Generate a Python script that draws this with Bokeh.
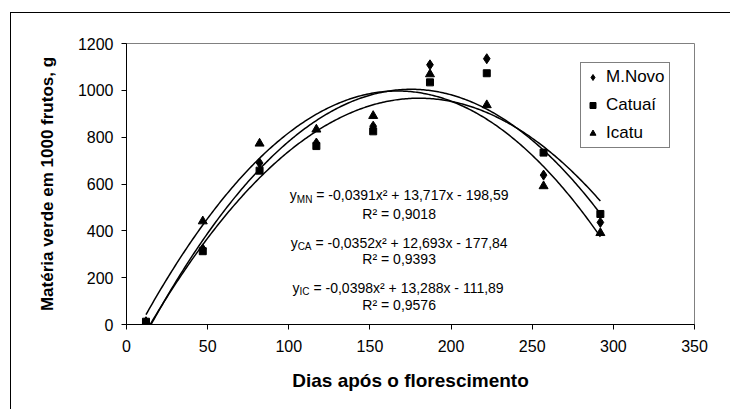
from bokeh.plotting import figure
from bokeh.models import Range1d, FixedTicker, Legend, LegendItem, Label
from bokeh.embed import file_html
from bokeh.resources import INLINE
import numpy as np

# ---- data ----
days = [12, 47, 82, 117, 152, 187, 222, 257, 292]
mnovo = [12, 323, 690, 775, 847, 1109, 1135, 638, 436]
catuai = [12, 313, 657, 762, 825, 1034, 1073, 734, 472]
icatu = [8, 441, 773, 833, 891, 1069, 937, 591, 391]

series_names = ["M.Novo", "Catuaí", "Icatu"]

# trend-line coefficients printed on the chart (a, b, c for a*x^2 + b*x + c)
coef_mn = [-0.0391, 13.717, -198.59]
coef_ca = [-0.0352, 12.693, -177.84]
coef_ic = [-0.0398, 13.288, -111.89]

eq_sub = ["MN", "CA", "IC"]
eq_rest = ["= -0,0391x² + 13,717x - 198,59",
           "= -0,0352x² + 12,693x - 177,84",
           "= -0,0398x² + 13,288x - 111,89"]
r2_text = ["R² = 0,9018", "R² = 0,9393", "R² = 0,9576"]

x_ticks = [0, 50, 100, 150, 200, 250, 300, 350]
y_ticks = [0, 200, 400, 600, 800, 1000, 1200]

FONT = "Liberation Sans"

p = figure(width=720, height=397, output_backend="svg", toolbar_location=None,
           x_range=Range1d(0, 350), y_range=Range1d(0, 1200))
p.styles = {"margin-left": "10px", "margin-top": "12px",
            "border-left": "1px solid #000", "border-top": "1px solid #000"}
p.min_border_left = 115
p.min_border_right = 37
p.min_border_top = 30
p.min_border_bottom = 86
p.background_fill_color = "white"
p.border_fill_color = "white"
p.outline_line_color = "#808080"
p.outline_line_width = 1
p.xgrid.visible = False
p.ygrid.visible = False

for ax in (p.xaxis[0], p.yaxis[0]):
    ax.axis_line_color = "black"
    ax.axis_line_width = 1
    ax.major_tick_line_color = "black"
    ax.major_tick_out = 5
    ax.major_tick_in = 0
    ax.minor_tick_line_color = None
    ax.major_label_text_font = FONT
    ax.major_label_text_font_size = "16px"
    ax.major_label_text_color = "black"
    ax.axis_label_text_font = FONT
    ax.axis_label_text_font_style = "bold"
    ax.axis_label_text_color = "black"

p.xaxis[0].ticker = FixedTicker(ticks=x_ticks)
p.yaxis[0].ticker = FixedTicker(ticks=y_ticks)
p.xaxis[0].axis_label = "Dias após o florescimento"
p.yaxis[0].axis_label = "Matéria verde em 1000 frutos, g"
p.xaxis[0].axis_label_text_font_size = "19px"
p.yaxis[0].axis_label_text_font_size = "17px"
p.xaxis[0].major_label_standoff = 10
p.yaxis[0].major_label_standoff = 8
p.xaxis[0].axis_label_standoff = 15
p.yaxis[0].axis_label_standoff = 18

# trend lines (polynomials from the printed equations), over the data's day range
xs = np.linspace(days[0], days[-1], 281)
for coef in (coef_mn, coef_ca, coef_ic):
    p.line(xs, np.polyval(coef, xs), line_color="black", line_width=1.5)

r1 = p.scatter(days, mnovo, marker="diamond", size=10, color="black")
r2 = p.scatter(days, catuai, marker="square", size=7, color="black")
r3 = p.scatter(days, icatu, marker="triangle", size=9, color="black")

legend = Legend(items=[LegendItem(label=series_names[0], renderers=[r1]),
                       LegendItem(label=series_names[1], renderers=[r2]),
                       LegendItem(label=series_names[2], renderers=[r3])],
                location=(454, 176))
legend.label_text_font = FONT
legend.label_text_font_size = "17px"
legend.label_text_color = "black"
legend.border_line_color = "black"
legend.border_line_width = 1
legend.background_fill_color = "white"
legend.background_fill_alpha = 1
legend.padding = 4
legend.spacing = 8
legend.glyph_width = 15
legend.glyph_height = 20
legend.label_height = 20
legend.label_standoff = 6
legend.margin = 0
p.add_layout(legend)

# ---- equation annotations (Arial / Liberation Sans advance widths, 1/1000 em)
ADV = {' ': 278, '-': 333, '=': 584, '+': 584, ',': 278, '.': 278, 'x': 500,
       'y': 500, 'M': 833, 'N': 722, 'C': 722, 'A': 667, 'I': 278, 'R': 722,
       '²': 333}
for d in "0123456789":
    ADV[d] = 556


def tw(s, size):
    return sum(ADV.get(c, 556) for c in s) / 1000.0 * size


EQ_FS = 14
SUB_FS = 10
px_y = 1200 / 281.0
cx = 168.0
eq_y = [551, 350, 158]
r2_y = [474, 278, 85]
for i in range(3):
    w_y = tw("y", EQ_FS)
    w_s = tw(eq_sub[i], SUB_FS)
    w_sp = tw(" ", EQ_FS)
    w_r = tw(eq_rest[i], EQ_FS)
    W = w_y + w_s + w_sp + w_r
    x0 = -W / 2
    common = dict(x=cx, x_units="data", y_units="data", text_font=FONT,
                  text_color="black", text_align="left", text_baseline="middle")
    p.add_layout(Label(y=eq_y[i], text="y", x_offset=x0,
                       text_font_size=f"{EQ_FS}px", **common))
    p.add_layout(Label(y=eq_y[i] - 4 * px_y, text=eq_sub[i], x_offset=x0 + w_y,
                       text_font_size=f"{SUB_FS}px", **common))
    p.add_layout(Label(y=eq_y[i], text=eq_rest[i], x_offset=x0 + w_y + w_s + w_sp,
                       text_font_size=f"{EQ_FS}px", **common))
    p.add_layout(Label(x=cx, y=r2_y[i], x_units="data", y_units="data",
                       text=r2_text[i], text_font=FONT, text_color="black",
                       text_align="center", text_baseline="middle",
                       text_font_size=f"{EQ_FS}px"))

open("out.html", "w").write(file_html(p, INLINE))
